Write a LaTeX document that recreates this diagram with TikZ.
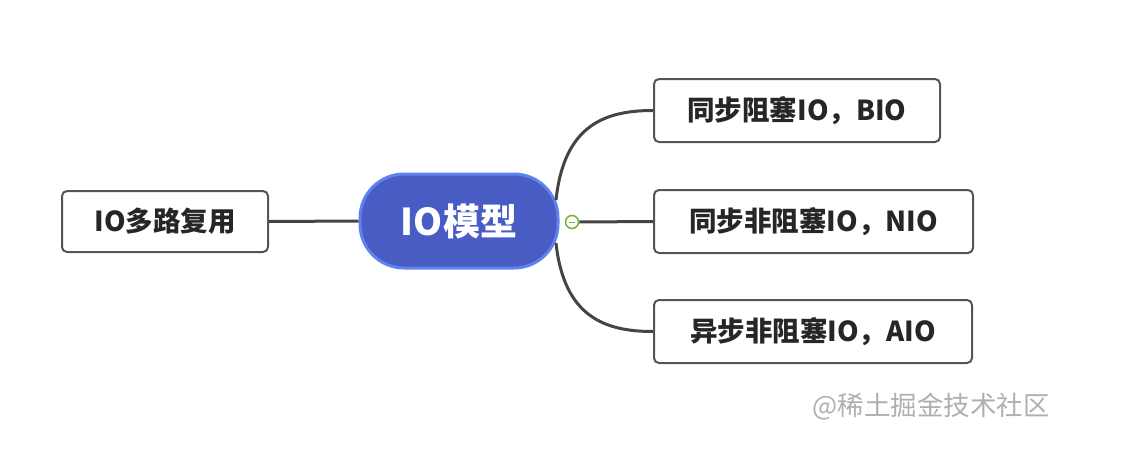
\documentclass[tikz,border=0pt]{standalone}
\usepackage{fontspec}
\setmainfont{Noto Sans CJK SC}
\definecolor{linegray}{RGB}{68,68,68}
\definecolor{boxgray}{RGB}{85,85,85}
\definecolor{cfill}{RGB}{72,92,196}
\definecolor{cborder}{RGB}{95,130,240}
\definecolor{fgreen}{RGB}{110,180,60}
\definecolor{wm}{RGB}{175,175,175}
\tikzset{
  leafbox/.style={draw=boxgray, line width=2pt, rounded corners=5pt, fill=white,
    inner sep=0pt, font=\fontsize{27.5}{30}\selectfont\bfseries, text=black!85},
  centerbox/.style={draw=cborder, line width=3pt, rounded corners=44pt, fill=cfill,
    inner sep=0pt, minimum width=198pt, minimum height=94pt,
    font=\fontsize{37}{40}\selectfont\bfseries, text=white},
  conn/.style={draw=linegray, line width=3pt},
}
\begin{document}
\begin{tikzpicture}[x=1pt,y=-1pt]
\useasboundingbox (0,0) rectangle (1133,456);
\node[centerbox] (c) at (459,221) {IO模型};
\node[leafbox, minimum width=206pt, minimum height=61pt] (l) at (165,221.5) {IO多路复用};
\node[leafbox, minimum width=286pt, minimum height=63pt] (b1) at (797,110.5) {同步阻塞IO，BIO};
\node[leafbox, minimum width=319pt, minimum height=63pt] (b2) at (813.5,221.5) {同步非阻塞IO，NIO};
\node[leafbox, minimum width=318pt, minimum height=63pt] (b3) at (813,331.5) {异步非阻塞IO，AIO};
\coordinate (ct) at (556,200);
\coordinate (cb) at (556,243);
\draw[conn] (l.east) -- (c.west);
\draw[conn] (ct) .. controls (564,125) and (605,110.5) .. (b1.west);
\draw[conn] (cb) .. controls (564,317) and (605,331.5) .. (b3.west);
\node[circle, draw=fgreen, line width=1.5pt, fill=white, minimum size=13pt, inner sep=0pt] (g) at (572,222) {};
\draw[fgreen, line width=1pt] ([xshift=-3pt]g.center) -- ([xshift=3pt]g.center);
\draw[conn] (g.east) -- (b2.west);
\node[font=\fontsize{26.5}{30}\selectfont, text=wm, anchor=center] (w) at (931,407) {@稀土掘金技术社区};
\end{tikzpicture}
\end{document}
